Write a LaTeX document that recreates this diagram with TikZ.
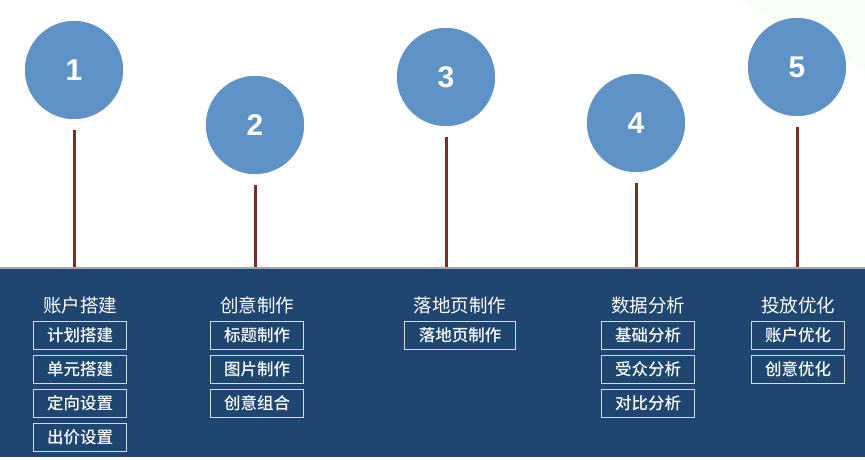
\documentclass[tikz,border=0pt]{standalone}
\usepackage{fontspec}
\setmainfont{Liberation Sans}
\newfontfamily\cjk{Noto Sans CJK SC}[BoldFont={Noto Sans CJK SC Medium}]
\usetikzlibrary{positioning}
\definecolor{bandblue}{HTML}{1E4670}
\definecolor{ballblue}{HTML}{5F93C8}
\definecolor{stemred}{HTML}{7A2E2A}
\begin{document}
\begin{tikzpicture}[x=1pt,y=-1pt,
  ball/.style={circle,fill=ballblue,draw=white,line width=1.5pt,minimum size=100pt,
    text=white,font=\bfseries\fontsize{30}{32}\selectfont},
  stem/.style={stemred,line width=3pt},
  head/.style={text=white,font=\cjk\fontsize{18.5}{20}\selectfont},
  item/.style={draw=white!80!bandblue,line width=1pt,text=white,minimum width=93pt,
    minimum height=28pt,inner sep=0pt,font=\cjk\bfseries\fontsize{16.5}{18}\selectfont}]
\useasboundingbox (0,0) rectangle (865,459);
\fill[green!4] (740,0) -- (865,0) -- (865,70) -- cycle;
\fill[bandblue] (0,268) rectangle (865,457);
\draw[gray!70,line width=1.5pt] (0,268) -- (865,268);
% circles and stems
\foreach \n/\x/\y in {1/74/70,2/255/125,3/446/77,4/636/123,5/797/67}{
  \node[ball] (b\n) at (\x,\y) {\n};
  \draw[stem] (\x,{\y+60}) -- (\x,267);
}
% column headers
\node[head] (h1) at (80,305) {账户搭建};
\node[head] (h2) at (257,305) {创意制作};
\node[head] (h3) at (460,305) {落地页制作};
\node[head] (h4) at (648,305) {数据分析};
\node[head] (h5) at (798,305) {投放优化};
% items
\node[item] (a1) at (80,335) {计划搭建};
\node[item,below=5pt of a1] (a2) {单元搭建};
\node[item,below=5pt of a2] (a3) {定向设置};
\node[item,below=5pt of a3] (a4) {出价设置};
\node[item] (c1) at (257,335) {标题制作};
\node[item,below=5pt of c1] (c2) {图片制作};
\node[item,below=5pt of c2] (c3) {创意组合};
\node[item,minimum width=111pt] (l1) at (460,335) {落地页制作};
\node[item] (d1) at (648,335) {基础分析};
\node[item,below=5pt of d1] (d2) {受众分析};
\node[item,below=5pt of d2] (d3) {对比分析};
\node[item] (o1) at (798,335) {账户优化};
\node[item,below=5pt of o1] (o2) {创意优化};
\end{tikzpicture}
\end{document}
